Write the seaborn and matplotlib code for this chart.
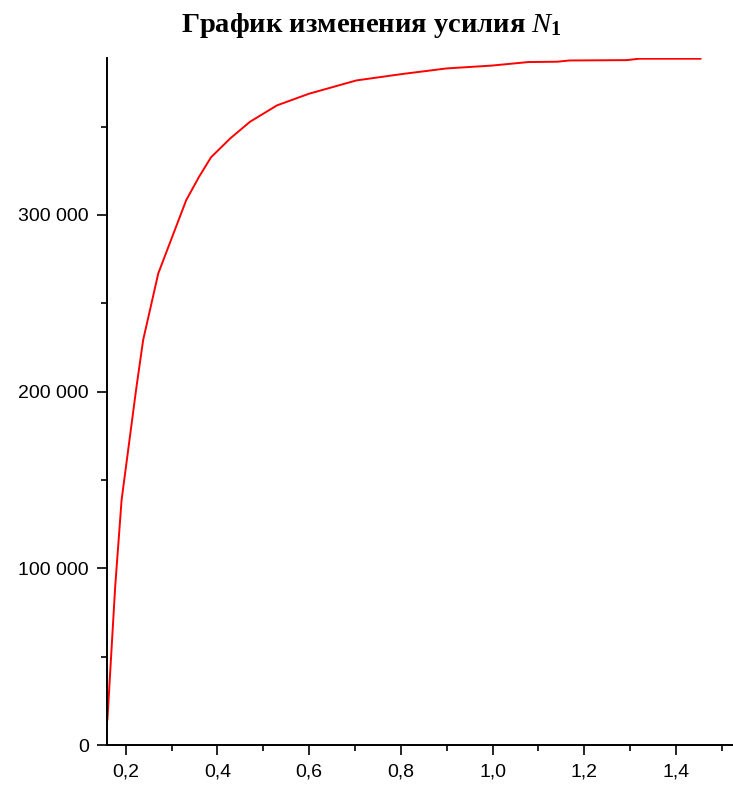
import matplotlib
matplotlib.use("Agg")
import matplotlib.pyplot as plt
import matplotlib.ticker as mticker
import pandas as pd
import seaborn as sns

# значения
x_vals = [0.16, 0.177, 0.191, 0.2225, 0.238, 0.271, 0.332, 0.360, 0.386, 0.428,
          0.471, 0.530, 0.600, 0.703, 0.802, 0.900, 0.998, 1.078, 1.141, 1.168,
          1.293, 1.320, 1.454]
n1_vals = [14100, 89600, 138700, 200900, 229200, 266900, 308400, 321600, 332600, 343300,
           352700, 362000, 368600, 376100, 379700, 382900, 384500, 386500, 386700, 387400,
           387600, 388400, 388400]

title_text = "График изменения усилия $N_\\mathbf{1}$"

sns.set_style("white")
plt.rcParams['font.family'] = ['Liberation Sans', 'DejaVu Sans']
plt.rcParams['text.color'] = 'black'
plt.rcParams['mathtext.fontset'] = 'custom'
plt.rcParams['mathtext.rm'] = 'Liberation Serif'
plt.rcParams['mathtext.it'] = 'Liberation Serif:italic'
plt.rcParams['mathtext.bf'] = 'Liberation Serif:bold'

W, H = 733, 785
fig = plt.figure(figsize=(W / 100, H / 100), dpi=100)
ax = fig.add_axes([106.7 / W, 1 - 745 / H, (W - 106.7) / W, (745 - 58) / H])

df = pd.DataFrame({"x": x_vals, "N1": n1_vals})
sns.lineplot(data=df, x="x", y="N1", ax=ax, color="#ff0000", lw=1.4, sort=False)

ax.set_xlim(0.1585, 1.5245)
ax.set_ylim(0, 388800)
ax.set_xlabel("")
ax.set_ylabel("")

ax.xaxis.set_major_locator(mticker.MultipleLocator(0.2))
ax.xaxis.set_minor_locator(mticker.MultipleLocator(0.1))
ax.yaxis.set_major_locator(mticker.MultipleLocator(100000))
ax.yaxis.set_minor_locator(mticker.MultipleLocator(50000))
ax.xaxis.set_major_formatter(mticker.FuncFormatter(lambda v, p: f"{v:.1f}".replace(".", ",")))
ax.yaxis.set_major_formatter(mticker.FuncFormatter(lambda v, p: f"{int(round(v)):,}".replace(",", " ")))

for s in ["top", "right"]:
    ax.spines[s].set_visible(False)
for s in ["left", "bottom"]:
    ax.spines[s].set_color("black")
    ax.spines[s].set_linewidth(1.4)

ax.tick_params(which="both", bottom=True, left=True, direction="out", width=1.2,
               colors="black", labelcolor="black")
ax.tick_params(which="major", length=7, pad=6, labelsize=14)
ax.tick_params(which="minor", length=4)

fig.text(371 / W, 1 - 32 / H, title_text, ha="center", va="baseline",
         fontsize=20.5, fontweight="bold", family="Liberation Serif", color="black")

fig.savefig("out.png", dpi=100)
